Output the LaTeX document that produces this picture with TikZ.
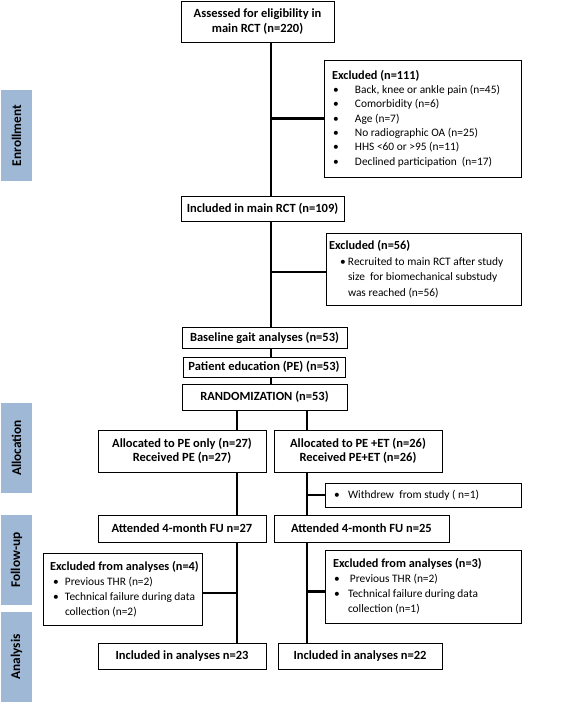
\documentclass[tikz,border=0pt]{standalone}
\usepackage{fontspec}
\setmainfont{Carlito}
\definecolor{lab}{RGB}{158,184,214}
\newcommand\mybul[1]{\makebox[#1][l]{\textbullet}}
\newcommand\li[2]{\hspace*{#1}\mbox{#2}}
\newcommand\hd[1]{{\bfseries\fontsize{12.3}{14}\selectfont #1}}
\tikzset{
  box/.style={draw=black, line width=1pt, fill=white, inner sep=0pt, align=center,
    font=\bfseries\fontsize{12.5}{14.5}\selectfont},
  listbox/.style={draw=black, line width=1pt, fill=white, inner sep=0pt, align=flush left,
    font=\fontsize{11.4}{14.3}\selectfont},
  conn/.style={line width=2.6pt},
  phase/.style={fill=lab, inner sep=0pt, rotate=90, minimum height=31pt,
    font=\bfseries\fontsize{13.3}{16}\selectfont}
}
\begin{document}
\begin{tikzpicture}[x=1pt,y=-1pt]
\useasboundingbox (0,0) rectangle (568,702);
% phase labels
\node[phase, minimum width=91pt] (enr) at (16.5,135.5) {Enrollment};
\node[phase, minimum width=90pt] (alc) at (16.5,448) {Allocation};
\node[phase, minimum width=90pt] (fup) at (16.5,560) {Follow-up};
\node[phase, minimum width=90pt] (ana) at (16.5,657) {Analysis};
% guide coordinates
\coordinate (vx) at (271,0);
\coordinate (lx) at (237,0);
\coordinate (rx) at (307,0);
% boxes
\node[box, minimum width=153pt, minimum height=41pt] (assess) at (257.5,21.5)
  {Assessed for eligibility in\\main RCT (n=220)};
\node[listbox, text width=197pt, minimum height=117pt] (excl1) at (422.5,118.5)
  {\li{8pt}{\hd{Excluded (n=111)}}\\
   \li{9pt}{\mybul{22pt}Back, knee or ankle pain (n=45)}\\
   \li{9pt}{\mybul{22pt}Comorbidity (n=6)}\\
   \li{9pt}{\mybul{22pt}Age (n=7)}\\
   \li{9pt}{\mybul{22pt}No radiographic OA (n=25)}\\
   \li{9pt}{\mybul{22pt}HHS {<}60 or {>}95 (n=11)}\\
   \li{9pt}{\mybul{22pt}Declined participation\ \ (n=17)}};
\node[box, minimum width=163pt, minimum height=25pt] (incl) at (262.5,208.5)
  {Included in main RCT (n=109)};
\node[listbox, text width=195pt, minimum height=72pt,
      font=\fontsize{11.4}{15.5}\selectfont] (excl2) at (423.5,269)
  {\li{3pt}{\hd{Excluded (n=56)}}\\
   \li{14pt}{\mybul{8pt}Recruited to main RCT after study}\\
   \li{22pt}{size\ \ for biomechanical substudy}\\
   \li{22pt}{was reached (n=56)}};
\node[box, minimum width=165pt, minimum height=21pt] (base) at (264.5,337.5)
  {Baseline gait analyses (n=53)};
\node[box, minimum width=162pt, minimum height=20pt] (pe) at (264,367)
  {Patient education (PE) (n=53)};
\node[box, minimum width=165pt, minimum height=26pt] (rand) at (264.5,397)
  {RANDOMIZATION (n=53)};
\node[box, minimum width=168pt, minimum height=42pt] (allocL) at (182,451)
  {Allocated to PE only (n=27)\\Received PE (n=27)};
\node[box, minimum width=168pt, minimum height=42pt] (allocR) at (358,451)
  {Allocated to PE +ET (n=26)\\Received PE+ET (n=26)};
\node[listbox, text width=196pt, minimum height=24pt] (withdrew) at (423,495)
  {\li{9pt}{\mybul{14pt}Withdrew\ \ from study ( n=1)}};
\node[box, minimum width=168pt, minimum height=27pt] (attL) at (182,528.5)
  {Attended 4-month FU n=27};
\node[box, minimum width=175pt, minimum height=27pt] (attR) at (361.5,528.5)
  {Attended 4-month FU n=25};
\node[listbox, text width=159pt, minimum height=72pt,
      font=\fontsize{11.4}{15}\selectfont] (exclL) at (122.5,589)
  {\li{7pt}{\hd{Excluded from analyses (n=4)}}\\
   \li{10pt}{\mybul{12pt}Previous THR (n=2)}\\
   \li{10pt}{\mybul{12pt}Technical failure during data}\\
   \li{22pt}{collection (n=2)}};
\node[listbox, text width=196pt, minimum height=73pt,
      font=\fontsize{11.4}{15}\selectfont] (exclR) at (423,586.5)
  {\li{8pt}{\hd{Excluded from analyses (n=3)}}\\
   \li{9pt}{\mybul{16pt}Previous THR (n=2)}\\
   \li{9pt}{\mybul{14pt}Technical failure during data}\\
   \li{23pt}{collection (n=1)}};
\node[box, minimum width=168pt, minimum height=26pt] (inclL) at (182,656)
  {Included in analyses n=23};
\node[box, minimum width=164pt, minimum height=26pt] (inclR) at (360,656)
  {Included in analyses n=22};
% connectors
\draw[conn] (assess.south -| vx) -- (incl.north -| vx);
\draw[conn] (vx |- excl1.west) -- (excl1.west);
\draw[conn] (incl.south -| vx) -- (base.north -| vx);
\draw[conn] (vx |- excl2.west) ++(0,3) -- ([yshift=-3pt]excl2.west);
\draw[conn] (base.south -| vx) -- (pe.north -| vx);
\draw[conn] (pe.south -| vx) -- (rand.north -| vx);
\draw[conn] (rand.south -| lx) -- (allocL.north -| lx);
\draw[conn] (rand.south -| rx) -- (allocR.north -| rx);
\draw[conn] (allocL.south -| lx) -- (attL.north -| lx);
\draw[conn] (allocR.south -| rx) -- (attR.north -| rx);
\draw[conn] (rx |- withdrew.west) -- (withdrew.west);
\draw[conn] (attL.south -| lx) -- (inclL.north -| lx);
\draw[conn] (attR.south -| rx) -- (inclR.north -| rx);
\draw[conn] (lx |- exclL.east) ++(0,4) -- ([yshift=-4pt]exclL.east);
\draw[conn] (rx |- exclR.west) ++(0,5) -- ([yshift=-5pt]exclR.west);
\end{tikzpicture}
\end{document}
